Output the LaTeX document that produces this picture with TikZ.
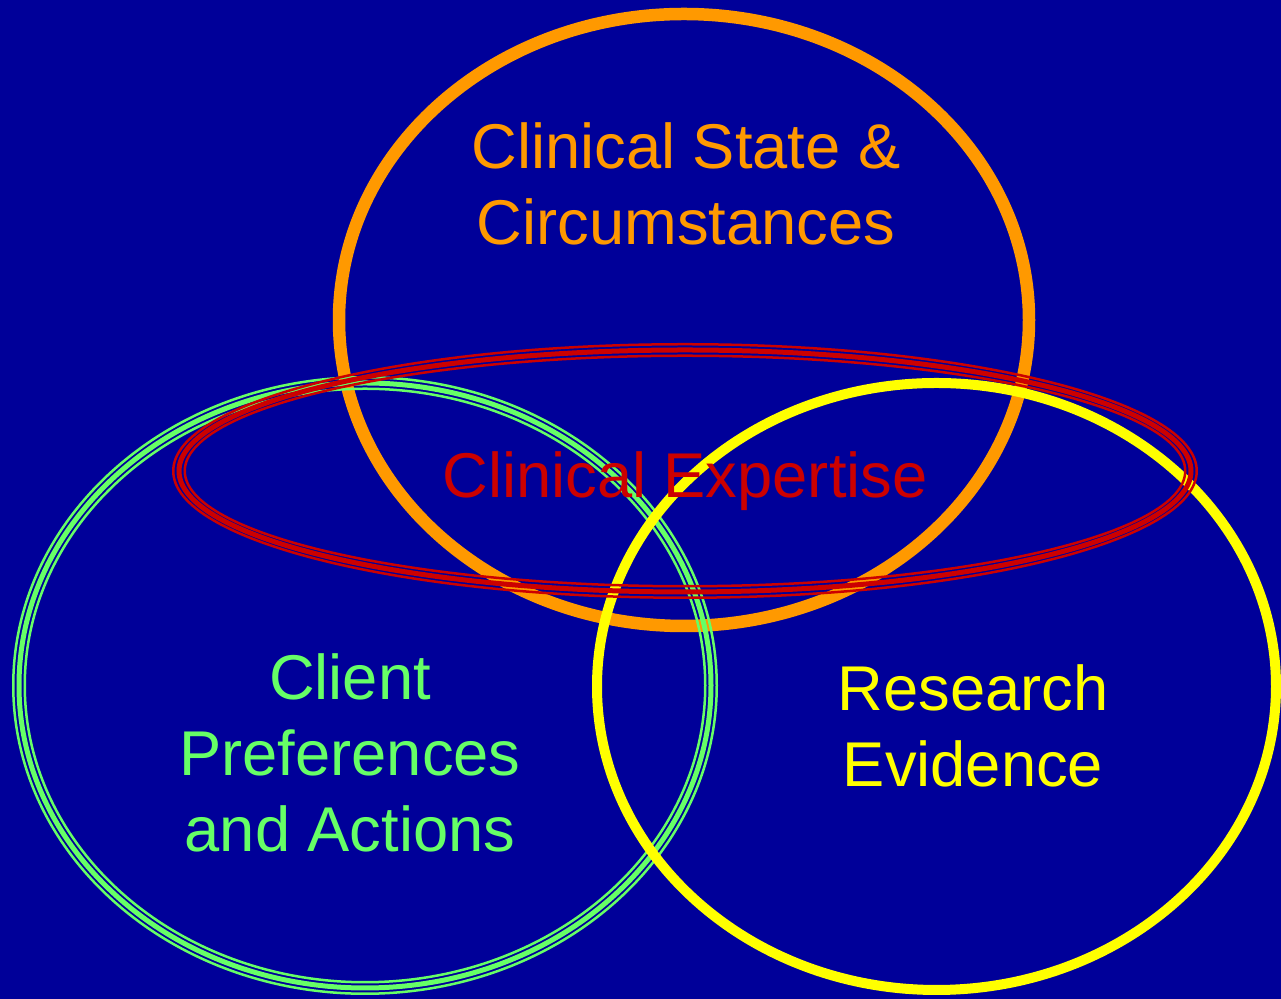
\documentclass[tikz,border=0pt]{standalone}
\usepackage{fontspec}
\setmainfont{Liberation Sans}
\usepackage{xcolor}
\usetikzlibrary{positioning}

\definecolor{bgblue}{RGB}{0,0,153}
\definecolor{statecol}{RGB}{255,153,0}
\definecolor{clientcol}{RGB}{102,255,102}
\definecolor{researchcol}{RGB}{255,255,0}
\definecolor{expertcol}{RGB}{204,0,0}

\tikzset{
  label text/.style={font=\fontsize{36}{43.2}\selectfont, align=center, inner sep=0pt},
}

\begin{document}
\begin{tikzpicture}
  \useasboundingbox (0,0) rectangle (25.62,19.98);
  % background
  \fill[bgblue] (0,0) rectangle (25.62,19.98);
  % clinical state circle
  \draw[statecol, line width=0.25cm] (13.68,13.58) ellipse [x radius=6.90, y radius=6.12];
  % client preferences circle (three rings)
  \foreach \d/\w in {-0.115/0.05, 0/0.1, 0.115/0.05}
    \draw[clientcol, line width=\w cm] (7.30,6.27) ellipse [x radius={6.92+(\d)}, y radius={6.05+(\d)}];
  % research evidence circle
  \draw[researchcol, line width=0.2cm] (18.73,6.25) ellipse [x radius=6.79, y radius=6.07];
  % clinical expertise band (three rings)
  \foreach \d/\w in {-0.115/0.05, 0/0.1, 0.115/0.05}
    \draw[expertcol, line width=\w cm] (13.70,10.56) ellipse [x radius={10.12+(\d)}, y radius={2.42+(\d)}];
  % labels
  \node[label text, text=statecol] (state) at (13.72,16.30) {Clinical State \&\\Circumstances};
  \node[label text, text=clientcol] (client) at (7.00,4.93) {Client\\Preferences\\and Actions};
  \node[label text, text=researchcol] (research) at (19.46,5.46) {Research\\Evidence};
  \node[label text, text=expertcol] (expert) at (13.70,10.36) {Clinical Expertise};
\end{tikzpicture}
\end{document}
